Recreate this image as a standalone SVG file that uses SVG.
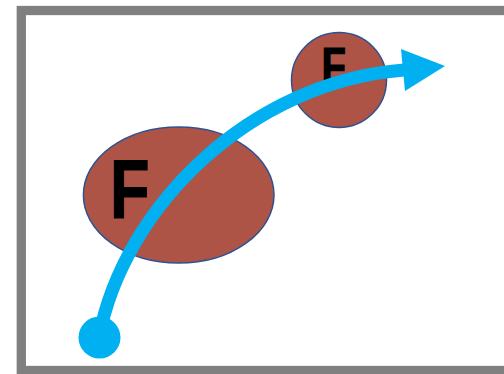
<svg xmlns="http://www.w3.org/2000/svg" width="504" height="374" viewBox="0 0 504 374">
<style>
.blob{fill:#AD5447;stroke:#2F528F;stroke-width:1.5}
.lbl{font-family:"Liberation Sans",Arial,sans-serif;font-weight:bold;fill:#000;stroke:#000;stroke-width:1.2}
.path{fill:none;stroke:#00B0F0;stroke-width:13}
</style>
<rect x="21.3" y="10.5" width="500" height="360" fill="#fff" stroke="#808080" stroke-width="9.3"/>
<g id="large">
<ellipse class="blob" cx="178.7" cy="195" rx="95.3" ry="68"/>
<text class="lbl" font-size="84" transform="translate(110,218) scale(0.77,1)">F</text>
</g>
<g id="small">
<circle class="blob" cx="339" cy="80" r="47.5"/>
<text class="lbl" font-size="50" transform="translate(321.4,82.7) scale(0.8,1)">F</text>
</g>
<g id="connectors">
<path class="path" d="M99,337 C124,207 250,82 404,70"/>
<polygon points="401,49 445,66 405,91" fill="#00B0F0"/>
<circle cx="99.5" cy="337.5" r="21" fill="#00B0F0"/>
</g>
</svg>
